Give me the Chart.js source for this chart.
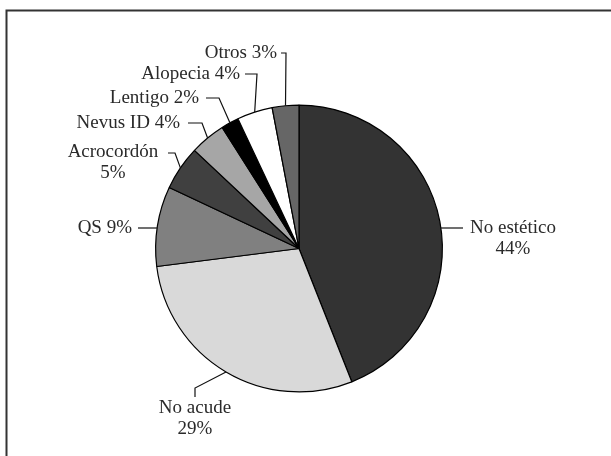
<!DOCTYPE html>
<html>
<head>
<meta charset="utf-8">
<script src="https://cdn.jsdelivr.net/npm/chart.js@4.4.1/dist/chart.umd.min.js"></script>
<style>
    html, body { margin: 0; padding: 0; background: #fff; }
    #wrap { width: 611px; height: 456px; }
</style>
</head>
<body>
<div id="wrap"><canvas id="pieChart" width="611" height="456"></canvas></div>
<script>
// datos del gráfico (porcentajes)
const categorias = ['No estético', 'No acude', 'QS', 'Acrocordón', 'Nevus ID', 'Lentigo', 'Alopecia', 'Otros'];
const porcentajes = [44, 29, 9, 5, 4, 2, 4, 3];
const colores = ['#333333', '#d9d9d9', '#808080', '#404040', '#a6a6a6', '#000000', '#ffffff', '#666666'];

// posición de cada etiqueta (texto y codo de la línea guía)
const etiquetas = [
    { lines: ['No estético', '44%'], x: 513, y: 228, align: 'center', stub: 463, horiz: true },
    { lines: ['No acude', '29%'], x: 195, y: 408, align: 'center', path: [[195, 397], [195, 388]] },
    { lines: ['QS 9%'], x: 132, y: 228, align: 'right', stub: 138, horiz: true },
    { lines: ['Acrocordón', '5%'], x: 113, y: 152, align: 'center', path: [[168, 153], [175, 153]] },
    { lines: ['Nevus ID 4%'], x: 180, y: 123, align: 'right', path: [[188, 123], [202, 123]] },
    { lines: ['Lentigo 2%'], x: 199, y: 98, align: 'right', path: [[206, 98], [219, 98]] },
    { lines: ['Alopecia 4%'], x: 240, y: 74, align: 'right', path: [[245, 74], [257, 74]] },
    { lines: ['Otros 3%'], x: 277, y: 53, align: 'right', path: [[281, 53], [286, 53]] }
];

const fuente = '19px "Liberation Serif", "DejaVu Serif", serif';

const marco = {
    id: 'marco',
    beforeDraw(chart) {
        const c = chart.ctx;
        c.save();
        c.strokeStyle = '#333';
        c.lineWidth = 2;
        c.beginPath();
        c.moveTo(6.5, 456);
        c.lineTo(6.5, 10.5);
        c.lineTo(611, 10.5);
        c.stroke();
        c.restore();
    }
};

const rotulos = {
    id: 'rotulos',
    afterDraw(chart) {
        const c = chart.ctx;
        const arcs = chart.getDatasetMeta(0).data;
        c.save();
        c.font = fuente;
        c.fillStyle = '#2a2a2a';
        c.textBaseline = 'middle';
        c.strokeStyle = '#111';
        c.lineWidth = 1.2;

        etiquetas.forEach((lab, i) => {
            const arc = arcs[i];
            const r = arc.outerRadius;
            c.beginPath();
            if (lab.horiz) {
                // línea horizontal hasta el borde del círculo
                const dy = lab.y - arc.y;
                const dx = Math.sqrt(r * r - dy * dy);
                const ex = lab.stub > arc.x ? arc.x + dx : arc.x - dx;
                c.moveTo(lab.stub, lab.y);
                c.lineTo(ex, lab.y);
            } else {
                const mid = (arc.startAngle + arc.endAngle) / 2;
                const px = arc.x + Math.cos(mid) * r;
                const py = arc.y + Math.sin(mid) * r;
                c.moveTo(lab.path[0][0], lab.path[0][1]);
                for (let k = 1; k < lab.path.length; k++) c.lineTo(lab.path[k][0], lab.path[k][1]);
                c.lineTo(px, py);
            }
            c.stroke();

            c.textAlign = lab.align;
            lab.lines.forEach((t, k) => {
                c.fillText(t, lab.x, lab.y + k * 21);
            });
        });
        c.restore();
    }
};

new Chart(document.getElementById('pieChart'), {
    type: 'pie',
    data: {
        labels: categorias,
        datasets: [{
            data: porcentajes,
            backgroundColor: colores,
            borderColor: '#000',
            borderWidth: 1.2
        }]
    },
    options: {
        responsive: false,
        animation: false,
        events: [],
        layout: {
            padding: { left: 155, right: 168, top: 104, bottom: 63 }
        },
        plugins: {
            legend: { display: false },
            tooltip: { enabled: false }
        }
    },
    plugins: [marco, rotulos]
});
</script>
</body>
</html>
